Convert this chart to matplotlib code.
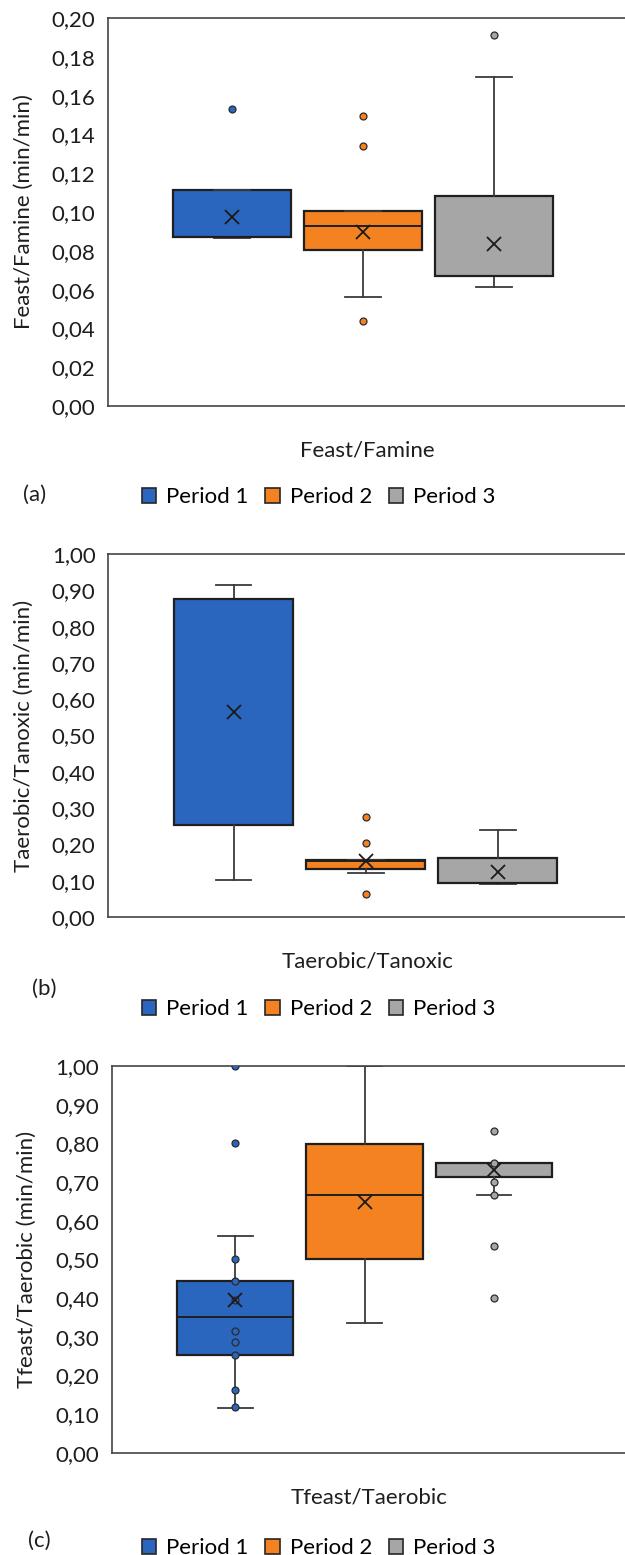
import matplotlib
matplotlib.use("Agg")
import matplotlib.pyplot as plt
from matplotlib.patches import Patch

plt.rcParams['font.family'] = ['Lato', 'DejaVu Sans']
plt.rcParams['font.size'] = 16

periods = ["Period 1", "Period 2", "Period 3"]
colors = ["#2A66BD", "#F58220", "#A6A6A6"]

# (a) Feast/Famine
ff_q1 = [0.0870, 0.0805, 0.0671]
ff_med = [0.0872, 0.0929, 0.0671]
ff_q3 = [0.1111, 0.1003, 0.1083]
ff_lo = [0.0867, 0.0561, 0.0612]
ff_hi = [0.1111, 0.1003, 0.1696]
ff_mean = [0.0972, 0.0896, 0.0837]
ff_pts = [[0.1532], [0.1496, 0.1341, 0.0439], [0.1914]]

# (b) Taerobic/Tanoxic
ta_q1 = [0.254, 0.132, 0.094]
ta_med = [0.876, 0.155, 0.094]
ta_q3 = [0.876, 0.157, 0.163]
ta_lo = [0.102, 0.122, 0.091]
ta_hi = [0.915, 0.157, 0.241]
ta_mean = [0.564, 0.153, 0.125]
ta_pts = [[], [0.275, 0.203, 0.063], []]

# (c) Tfeast/Taerobic
tf_q1 = [0.254, 0.500, 0.712]
tf_med = [0.3525, 0.666, 0.749]
tf_q3 = [0.445, 0.798, 0.749]
tf_lo = [0.116, 0.336, 0.6655]
tf_hi = [0.5615, 0.999, 0.749]
tf_mean = [0.3955, 0.648, 0.731]
tf_pts = [[1.0, 0.80, 0.50, 0.445, 0.395, 0.314, 0.288, 0.254, 0.163, 0.118],
          [],
          [0.833, 0.75, 0.70, 0.667, 0.534, 0.40]]

yticks_a = [0.00, 0.02, 0.04, 0.06, 0.08, 0.10, 0.12, 0.14, 0.16, 0.18, 0.20]
yticks_bc = [0.0, 0.1, 0.2, 0.3, 0.4, 0.5, 0.6, 0.7, 0.8, 0.9, 1.0]


def draw_panel(ax, q1, med, q3, lo, hi, mean, pts, yticks, ylabel, xlabel, xlim):
    stats = []
    for i in range(3):
        stats.append(dict(q1=q1[i], med=med[i], q3=q3[i], whislo=lo[i], whishi=hi[i],
                          mean=mean[i], fliers=pts[i], label=periods[i]))
    bp = ax.bxp(stats, positions=[1, 2, 3], widths=0.9, capwidths=0.27,
                patch_artist=True, showmeans=True,
                boxprops=dict(edgecolor="#1f1f1f", linewidth=1.6),
                whiskerprops=dict(color="#3a3a3a", linewidth=1.3),
                capprops=dict(color="#3a3a3a", linewidth=1.3),
                medianprops=dict(color="#1f1f1f", linewidth=1.4),
                meanprops=dict(marker="x", markersize=10, markeredgecolor="#1a1a1a",
                               markeredgewidth=1.3),
                flierprops=dict(marker="o", markersize=5, markeredgecolor="#2b2b2b",
                                markeredgewidth=0.9))
    for box, fl, mn, c in zip(bp["boxes"], bp["fliers"], bp["means"], colors):
        box.set_facecolor(c)
        fl.set_markerfacecolor(c)
        fl.set_zorder(4)
        mn.set_zorder(5)
    ax.set_xlim(xlim)
    ax.set_ylim(yticks[0], yticks[-1])
    ax.set_yticks(yticks)
    ax.set_yticklabels([f"{v:.2f}".replace(".", ",") for v in yticks])
    ax.set_xticks([])
    ax.tick_params(axis="y", length=0, pad=9, labelsize=16, labelcolor="#1e1e1e")
    for s in ["top", "left", "bottom"]:
        ax.spines[s].set_color("#444444")
        ax.spines[s].set_linewidth(1.2)
    ax.spines["right"].set_visible(False)
    ax.set_ylabel(ylabel, fontsize=16, color="#1e1e1e", labelpad=13)
    ax.set_xlabel(xlabel, fontsize=16, color="#1e1e1e", labelpad=25)


fig = plt.figure(figsize=(6.25, 15.55), dpi=100)

ax_a = fig.add_axes([0.1728, 0.7389, 0.8304, 0.2495])
draw_panel(ax_a, ff_q1, ff_med, ff_q3, ff_lo, ff_hi, ff_mean, ff_pts, yticks_a,
           "Feast/Famine (min/min)", "Feast/Famine", (0.053, 4.015))

ax_b = fig.add_axes([0.1728, 0.4103, 0.8304, 0.2334])
draw_panel(ax_b, ta_q1, ta_med, ta_q3, ta_lo, ta_hi, ta_mean, ta_pts, yticks_bc,
           "Taerobic/Tanoxic (min/min)", "Taerobic/Tanoxic", (0.050, 3.976))

ax_c = fig.add_axes([0.1786, 0.0656, 0.8246, 0.2489])
draw_panel(ax_c, tf_q1, tf_med, tf_q3, tf_lo, tf_hi, tf_mean, tf_pts, yticks_bc,
           "Tfeast/Taerobic (min/min)", "Tfeast/Taerobic", (0.047, 4.027))

handles = [Patch(facecolor=c, edgecolor="#262626", linewidth=1.2) for c in colors]
for lab, ly, tx in [("(a)", 1 - 495 / 1555, 23), ("(b)", 1 - 989 / 1555, 32),
                    ("(c)", 1 - 1541 / 1555, 28)]:
    fig.text(tx / 625, ly, lab, ha="left", va="center", fontsize=16, color="#1e1e1e")
for ly in [1 - 497 / 1555, 1 - 1009 / 1555, 1 - 1548 / 1555]:
    fig.legend(handles, periods, loc="center", bbox_to_anchor=(0.51, ly), ncol=3,
               frameon=False, fontsize=16, handlelength=0.65, handleheight=0.65,
               handletextpad=0.45, columnspacing=0.75, borderpad=0)

fig.savefig("out.png", dpi=100)
